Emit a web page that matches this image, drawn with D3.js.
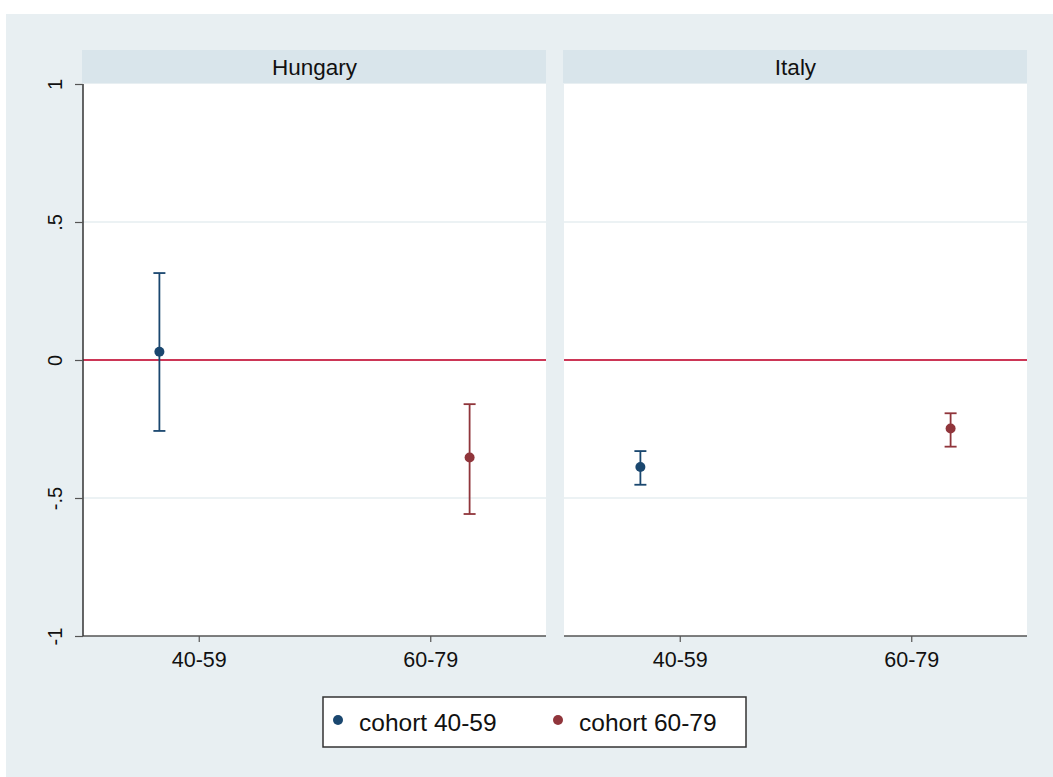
<!DOCTYPE html>
<html>
<head>
<meta charset="utf-8">
<script src="https://cdn.jsdelivr.net/npm/d3@7"></script>
<style>
  html, body { margin: 0; padding: 0; background: #fff; }
  svg { display: block; font-family: "Liberation Sans", Arial, Helvetica, sans-serif; }
</style>
</head>
<body>
<svg id="chart" width="1053" height="777"></svg>
<script>
// Panels, cohorts and estimates with 95% confidence bounds
const panels = ["Hungary", "Italy"];
const cohorts = ["40-59", "60-79"];
const seriesNames = ["cohort 40-59", "cohort 60-79"];
const seriesColors = ["#1a476f", "#90353b"];
const estimate = { Hungary: [0.030, -0.353], Italy: [-0.388, -0.248] };
const upper    = { Hungary: [0.315, -0.160], Italy: [-0.330, -0.193] };
const lower    = { Hungary: [-0.257, -0.558], Italy: [-0.452, -0.314] };
const yTicks = [-1, -0.5, 0, 0.5, 1];
const yTickLabels = ["-1", "-.5", "0", ".5", "1"];

const svg = d3.select("#chart");
const W = 1053, H = 777;
const FONT = "Liberation Sans, Arial, sans-serif";

// outer graph region
svg.append("rect").attr("x", 6).attr("y", 14).attr("width", W - 6).attr("height", H - 14)
  .attr("fill", "#e8eff2");

const plotTop = 84, plotBottom = 636;
const panelX = [[83, 546], [564, 1027]];
const y = d3.scaleLinear().domain([-1, 1]).range([plotBottom, plotTop]);

panels.forEach((p, pi) => {
  const [x0, x1] = panelX[pi];
  const x = d3.scaleLinear().domain([0.5, 2.5]).range([x0, x1]);
  const g = svg.append("g");

  // strip header
  g.append("rect").attr("x", x0 - 1).attr("y", 50).attr("width", x1 - x0 + 1).attr("height", 33)
    .attr("fill", "#d9e5eb");
  g.append("text").attr("x", (x0 + x1) / 2).attr("y", 67).attr("dy", "0.35em")
    .attr("text-anchor", "middle").attr("font-size", 22.5).attr("fill", "#111").text(p);

  // plot area
  g.append("rect").attr("x", x0).attr("y", plotTop).attr("width", x1 - x0).attr("height", plotBottom - plotTop)
    .attr("fill", "#fff");

  // horizontal grid lines
  g.selectAll("line.grid").data([-0.5, 0.5]).join("line").attr("class", "grid")
    .attr("x1", x0).attr("x2", x1).attr("y1", d => y(d)).attr("y2", d => y(d))
    .attr("stroke", "#e6eef1").attr("stroke-width", 1.5);

  // reference line at zero
  g.append("line").attr("x1", x0).attr("x2", x1).attr("y1", y(0)).attr("y2", y(0))
    .attr("stroke", "#cc3656").attr("stroke-width", 2);

  // x axis
  const xAxis = d3.axisBottom(x).tickValues([1, 2]).tickFormat((d, i) => cohorts[i])
    .tickSize(6).tickPadding(8);
  const ax = g.append("g").attr("transform", `translate(0,${plotBottom})`).call(xAxis);
  ax.select(".domain").attr("stroke", "#555").attr("stroke-width", 1.5).attr("d", `M${x0},0H${x1}`);
  ax.selectAll(".tick line").attr("stroke", "#555").attr("stroke-width", 1.2);
  ax.selectAll(".tick text").attr("font-size", 21.5).attr("fill", "#111")
    .attr("font-family", FONT).attr("dy", "0.78em");

  // y axis on the first panel only
  if (pi === 0) {
    const yAxis = d3.axisLeft(y).tickValues(yTicks).tickFormat((d, i) => yTickLabels[i])
      .tickSize(8).tickPadding(0);
    const ay = g.append("g").attr("transform", `translate(${x0},0)`).call(yAxis);
    ay.select(".domain").attr("stroke", "#333").attr("stroke-width", 1.5).attr("d", `M0,${plotTop}V${plotBottom}`);
    ay.selectAll(".tick line").attr("stroke", "#555").attr("stroke-width", 1.2);
    ay.selectAll(".tick text").attr("font-size", 20).attr("fill", "#111")
      .attr("font-family", FONT)
      .attr("text-anchor", "middle").attr("dy", 0)
      .attr("transform", "translate(-21,0) rotate(-90)").attr("x", 0).attr("y", 0);
  }

  // estimates with confidence intervals, dodged around each cohort
  const offset = 0.17;
  cohorts.forEach((c, ci) => {
    const cx = x(ci + 1 + (ci === 0 ? -offset : offset));
    const col = seriesColors[ci];
    const cap = 6;
    g.append("line").attr("x1", cx).attr("x2", cx).attr("y1", y(upper[p][ci])).attr("y2", y(lower[p][ci]))
      .attr("stroke", col).attr("stroke-width", 1.8);
    [upper[p][ci], lower[p][ci]].forEach(v => {
      g.append("line").attr("x1", cx - cap).attr("x2", cx + cap).attr("y1", y(v)).attr("y2", y(v))
        .attr("stroke", col).attr("stroke-width", 1.8);
    });
    g.append("circle").attr("cx", cx).attr("cy", y(estimate[p][ci])).attr("r", 5).attr("fill", col);
  });
});

// legend
const lg = svg.append("g");
lg.append("rect").attr("x", 323).attr("y", 697).attr("width", 423).attr("height", 50)
  .attr("fill", "#fff").attr("stroke", "#333").attr("stroke-width", 1.5);
const legendX = [338, 558];
seriesNames.forEach((s, i) => {
  lg.append("circle").attr("cx", legendX[i]).attr("cy", 720).attr("r", 5).attr("fill", seriesColors[i]);
  lg.append("text").attr("x", legendX[i] + 21).attr("y", 722).attr("dy", "0.35em")
    .attr("font-size", 24.5).attr("fill", "#111").text(s);
});
</script>
</body>
</html>
